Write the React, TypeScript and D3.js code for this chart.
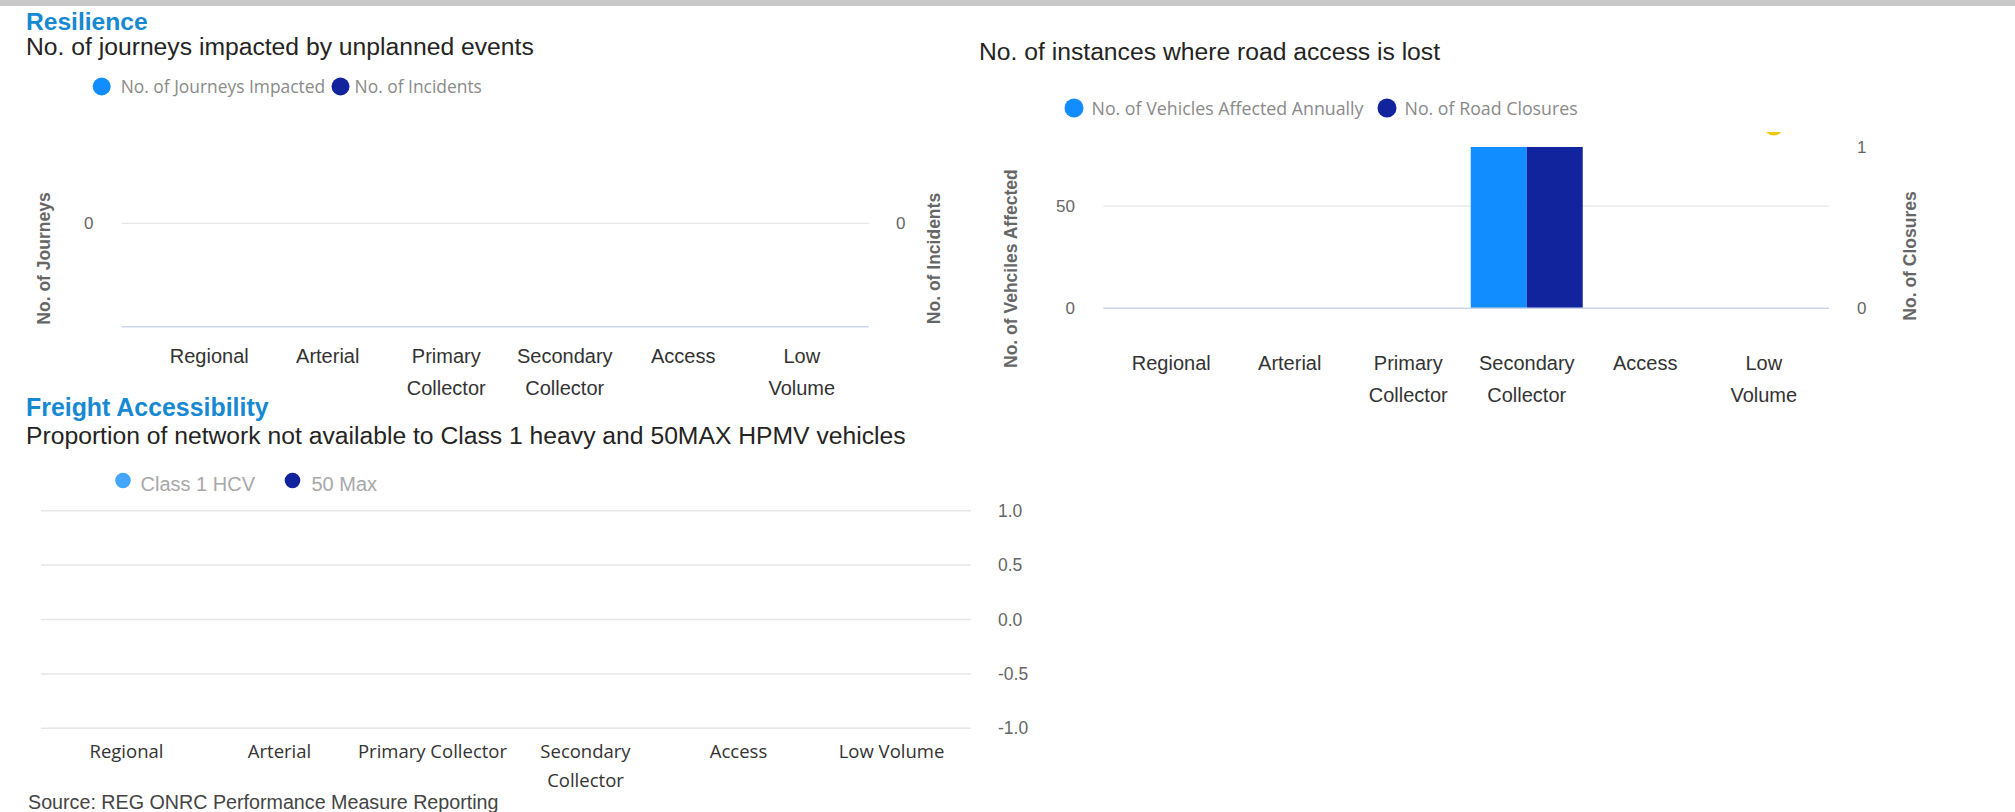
import React from "react";
import * as d3 from "d3";

// ── Data ──────────────────────────────────────────────────────────────
const categories = ["Regional", "Arterial", "Primary Collector", "Secondary Collector", "Access", "Low Volume"];

// tick labels as they wrap in each chart
const topTickLabels = [["Regional"], ["Arterial"], ["Primary", "Collector"], ["Secondary", "Collector"], ["Access"], ["Low", "Volume"]];
const freightTickLabels = [["Regional"], ["Arterial"], ["Primary Collector"], ["Secondary", "Collector"], ["Access"], ["Low Volume"]];

// Resilience: journeys impacted (no data reported)
const journeysImpacted: (number | null)[] = [null, null, null, null, null, null];
const incidents: (number | null)[] = [null, null, null, null, null, null];

// Road access lost
const vehiclesAffected: (number | null)[] = [null, null, null, 79, null, null];
const roadClosures: (number | null)[] = [null, null, null, 1, null, null];
const closureMarker = ["Low Volume"];

// Freight accessibility (no data reported)
const class1HCV: (number | null)[] = [null, null, null, null, null, null];
const max50: (number | null)[] = [null, null, null, null, null, null];

const leftTicks1 = [0];
const rightTicks1 = [0];
const leftTicks2 = [0, 50];
const rightTicks2 = [0, 1];
const freightTicks = [1, 0.5, 0, -0.5, -1];

// ── Styles ────────────────────────────────────────────────────────────
const C = {
    light: "#118DFF",
    dark: "#12239E",
    lightFaded: "#44a6fa",
    yellow: "#F2C80F",
    grid: "#e6e6e6",
    axis: "#ccd6eb",
    tick: "#666666",
    label: "#333333",
    title: "#1689d2",
    sub: "#252423",
    legend: "#8a8a8a",
    legendFaded: "#a8a8a8",
};
const ARIAL = "'Liberation Sans', Arial, sans-serif";
const OPEN = "'Open Sans', 'Segoe UI', sans-serif";

const Legend = ({ items, y, textY, r, size, color, font }) => (
    <g>
        {items.map((it, i) => (
            <g key={i}>
                <circle cx={it.cx} cy={y} r={r} fill={it.color} />
                <text x={it.tx} y={textY} fontSize={size} fontFamily={font} fill={color}>{it.label}</text>
            </g>
        ))}
    </g>
);

const TickLabels = ({ scale, labels, baseline, gap, size, font }) => (
    <g>
        {labels.map((lines, i) => (
            <text key={i} textAnchor="middle" fontSize={size} fontFamily={font} fill={C.label}>
                {lines.map((ln, j) => (
                    <tspan key={j} x={scale(categories[i]) + scale.bandwidth() / 2} y={baseline + j * gap}>{ln}</tspan>
                ))}
            </text>
        ))}
    </g>
);

const AxisTitle = ({ x, y, text }) => (
    <text transform={`translate(${x},${y}) rotate(-90)`} textAnchor="middle" dy="0.35em"
        fontSize={17.5} fontWeight="bold" fontFamily={ARIAL} fill={C.tick}>{text}</text>
);

const Bars = ({ x, inner, y, values, series, color }) => (
    <g>
        {values.map((v, i) => v == null ? null : (
            <rect key={i}
                x={x(categories[i]) + (x.bandwidth() - inner.range()[1]) / 2 + inner(series)}
                y={y(v)} width={inner.bandwidth()} height={y(0) - y(v)} fill={color} />
        ))}
    </g>
);

export default function App() {
    // ── Chart 1: journeys impacted ──
    const p1 = { left: 121.7, right: 868.7, bottom: 326.7 };
    const x1 = d3.scaleBand().domain(categories).range([150, 861]);
    const y1 = d3.scaleLinear().domain([0, 1]).range([223.3, 119]);
    const y1r = d3.scaleLinear().domain([0, 1]).range([223.3, 119]);
    const inner1 = d3.scaleBand().domain(["a", "b"]).range([0, x1.bandwidth() * 0.94]);

    // ── Chart 2: road access lost ──
    const p2 = { left: 1103.3, right: 1829, top: 147, bottom: 308.3 };
    const x2 = d3.scaleBand().domain(categories).range([1112, 1823]);
    const y2 = d3.scaleLinear().domain([0, d3.max(vehiclesAffected) as number]).range([p2.bottom, p2.top]);
    const y2r = d3.scaleLinear().domain([0, d3.max(roadClosures) as number]).range([p2.bottom, p2.top]);
    const inner2 = d3.scaleBand().domain(["veh", "clo"]).range([0, x2.bandwidth() * 0.945]);

    // ── Chart 3: freight ──
    const p3 = { left: 41, right: 971 };
    const x3 = d3.scaleBand().domain(categories).range([50, 968]);
    const y3 = d3.scaleLinear().domain([-1, 1]).range([728.3, 510.7]);
    const inner3 = d3.scaleBand().domain(["a", "b"]).range([0, x3.bandwidth() * 0.9]);

    return (
        <svg width={2015} height={812} style={{ position: "absolute", left: 0, top: 0, background: "#fff" }}>
            <rect x={0} y={0} width={2015} height={6} fill="#c8c8c8" />

            {/* ── Resilience ───────────────────────────── */}
            <text x={26} y={29.5} fontSize={24.6} fontWeight="bold" fontFamily={ARIAL} fill={C.title}>Resilience</text>
            <text x={26} y={55} fontSize={24.7} fontFamily={ARIAL} fill={C.sub}>No. of journeys impacted by unplanned events</text>
            <Legend y={86.5} textY={93} r={9} size={17.4} font={OPEN} color={C.legend} items={[
                { cx: 101.7, tx: 120.7, color: C.light, label: "No. of Journeys Impacted" },
                { cx: 340.5, tx: 354.6, color: C.dark, label: "No. of Incidents" },
            ]} />
            {leftTicks1.map(t => (
                <line key={t} x1={p1.left} x2={p1.right} y1={y1(t)} y2={y1(t)} stroke={C.grid} strokeWidth={1.3} />
            ))}
            {leftTicks1.map(t => (
                <text key={t} x={93.5} y={y1(t)} dy="0.35em" textAnchor="end" fontSize={17} fontFamily={ARIAL} fill={C.tick}>{t}</text>
            ))}
            {rightTicks1.map(t => (
                <text key={t} x={896} y={y1r(t)} dy="0.35em" fontSize={17} fontFamily={ARIAL} fill={C.tick}>{t}</text>
            ))}
            <Bars x={x1} inner={inner1} y={y1} values={journeysImpacted} series="a" color={C.light} />
            <Bars x={x1} inner={inner1} y={y1r} values={incidents} series="b" color={C.dark} />
            <line x1={p1.left} x2={p1.right} y1={p1.bottom} y2={p1.bottom} stroke={C.axis} strokeWidth={1.5} />
            <TickLabels scale={x1} labels={topTickLabels} baseline={363} gap={32} size={20} font={ARIAL} />
            <AxisTitle x={44} y={258.5} text="No. of Journeys" />
            <AxisTitle x={934} y={258.5} text="No. of Incidents" />

            {/* ── Road access lost ─────────────────────── */}
            <text x={979} y={60} fontSize={24.7} fontFamily={ARIAL} fill={C.sub}>No. of instances where road access is lost</text>
            <Legend y={108} textY={114.5} r={9.5} size={17.8} font={OPEN} color={C.legend} items={[
                { cx: 1074, tx: 1091.5, color: C.light, label: "No. of Vehicles Affected Annually" },
                { cx: 1387, tx: 1404.5, color: C.dark, label: "No. of Road Closures" },
            ]} />
            {leftTicks2.filter(t => t !== 0).map(t => (
                <line key={t} x1={p2.left} x2={p2.right} y1={y2(t)} y2={y2(t)} stroke={C.grid} strokeWidth={1.3} />
            ))}
            {leftTicks2.map(t => (
                <text key={t} x={1075} y={y2(t)} dy="0.35em" textAnchor="end" fontSize={17} fontFamily={ARIAL} fill={C.tick}>{t}</text>
            ))}
            {rightTicks2.map(t => (
                <text key={t} x={1857} y={y2r(t)} dy="0.35em" fontSize={17} fontFamily={ARIAL} fill={C.tick}>{t}</text>
            ))}
            <Bars x={x2} inner={inner2} y={y2} values={vehiclesAffected} series="veh" color={C.light} />
            <Bars x={x2} inner={inner2} y={y2r} values={roadClosures} series="clo" color={C.dark} />
            <line x1={p2.left} x2={p2.right} y1={p2.bottom} y2={p2.bottom} stroke={C.axis} strokeWidth={1.5} />
            <defs>
                <clipPath id="markerClip">
                    <rect x={p2.left} y={132} width={p2.right - p2.left} height={p2.bottom - 132} />
                </clipPath>
            </defs>
            <g clipPath="url(#markerClip)">
                {closureMarker.map(c => (
                    <circle key={c} cx={(x2(c) as number) + x2.bandwidth() / 2 + 10} cy={125.5} r={10} fill={C.yellow} />
                ))}
            </g>
            <TickLabels scale={x2} labels={topTickLabels} baseline={370} gap={32} size={20} font={ARIAL} />
            <AxisTitle x={1011} y={268.6} text="No. of Vehciles Affected" />
            <AxisTitle x={1910} y={256} text="No. of Closures" />

            {/* ── Freight Accessibility ────────────────── */}
            <text x={26} y={415.5} fontSize={24.9} fontWeight="bold" fontFamily={ARIAL} fill={C.title}>Freight Accessibility</text>
            <text x={26} y={444} fontSize={24.7} fontFamily={ARIAL} fill={C.sub}>Proportion of network not available to Class 1 heavy and 50MAX HPMV vehicles</text>
            <Legend y={480.5} textY={491} r={7.8} size={20} font={ARIAL} color={C.legendFaded} items={[
                { cx: 123, tx: 140.5, color: C.lightFaded, label: "Class 1 HCV" },
                { cx: 292.5, tx: 311.5, color: C.dark, label: "50 Max" },
            ]} />
            {freightTicks.map(t => (
                <line key={t} x1={p3.left} x2={p3.right} y1={y3(t)} y2={y3(t)} stroke={C.grid} strokeWidth={1.5} />
            ))}
            {freightTicks.map(t => (
                <text key={t} x={998} y={y3(t)} dy="0.35em" fontSize={17.5} fontFamily={ARIAL} fill={C.tick}>{t.toFixed(1)}</text>
            ))}
            <Bars x={x3} inner={inner3} y={y3} values={class1HCV} series="a" color={C.lightFaded} />
            <Bars x={x3} inner={inner3} y={y3} values={max50} series="b" color={C.dark} />
            <TickLabels scale={x3} labels={freightTickLabels} baseline={758} gap={28.5} size={18.5} font={OPEN} />

            <text x={28} y={809} fontSize={19.7} fontFamily={ARIAL} fill="#444">Source: REG ONRC Performance Measure Reporting</text>
        </svg>
    );
}
